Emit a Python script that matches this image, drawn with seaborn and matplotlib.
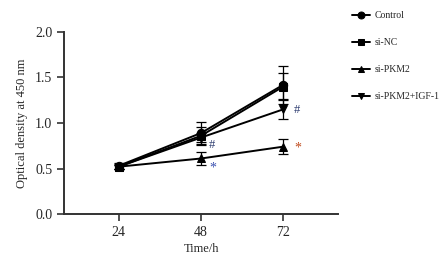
import pandas as pd
import matplotlib
matplotlib.use("Agg")
import matplotlib.pyplot as plt
import seaborn as sns

# Dados
tempos = [24, 48, 72]
grupos = ["Control", "si-NC", "si-PKM2", "si-PKM2+IGF-1"]
control = [0.53, 0.89, 1.42]
si_nc = [0.52, 0.86, 1.40]
si_pkm2 = [0.52, 0.61, 0.74]
si_pkm2_igf = [0.52, 0.84, 1.15]
erro_control = [0.03, 0.12, 0.21]
erro_si_nc = [0.03, 0.10, 0.15]
erro_si_pkm2 = [0.02, 0.07, 0.08]
erro_si_pkm2_igf = [0.02, 0.05, 0.11]

valores = [control, si_nc, si_pkm2, si_pkm2_igf]
erros = [erro_control, erro_si_nc, erro_si_pkm2, erro_si_pkm2_igf]
marcadores = ["o", "s", "^", "v"]

linhas = []
for g, vals, errs in zip(grupos, valores, erros):
    for t, v, e in zip(tempos, vals, errs):
        linhas.append({"Tempo": t, "OD": v, "Erro": e, "Grupo": g})
df = pd.DataFrame(linhas)

sns.set_theme(style="ticks")
plt.rcParams["font.family"] = ["Liberation Serif", "DejaVu Serif"]

fig = plt.figure(figsize=(4.46, 2.58), dpi=100)
ax = fig.add_axes([0.1435, 0.1705, 0.6145, 0.7055])

sns.lineplot(
    data=df, x="Tempo", y="OD", hue="Grupo", style="Grupo",
    palette=["black"] * 4, markers=marcadores, dashes=False,
    markersize=6, linewidth=1.4, markeredgecolor="black", ax=ax, legend=True
)

for g, m in zip(grupos, marcadores):
    d = df[df["Grupo"] == g]
    ax.errorbar(d["Tempo"], d["OD"], yerr=d["Erro"], fmt="none",
                ecolor="black", elinewidth=0.9, capsize=3.8, capthick=0.9)

# Marcas de significância
ax.text(50.3, 0.76, "#", color="#2b3a6e", fontsize=9, va="center")
ax.text(50.3, 0.51, "*", color="#3a50b0", fontsize=10, va="center")
ax.text(75.2, 1.14, "#", color="#2b3a6e", fontsize=9, va="center")
ax.text(75.2, 0.72, "*", color="#c04a1c", fontsize=10, va="center")

ax.set_xlim(8, 88)
ax.set_ylim(0, 2.0)
ax.set_xticks(tempos)
ax.set_yticks([0.0, 0.5, 1.0, 1.5, 2.0])
ax.set_yticklabels(["0.0", "0.5", "1.0", "1.5", "2.0"])
ax.set_xlabel("Time/h", fontsize=9, labelpad=3)
ax.set_ylabel("Optical density at 450 nm", fontsize=9, labelpad=5)
ax.tick_params(axis="both", labelsize=10, width=1.2, length=5, color="#333333")
for s in ["left", "bottom"]:
    ax.spines[s].set_linewidth(1.4)
    ax.spines[s].set_color("#333333")
sns.despine(ax=ax)

handles, labels = ax.get_legend_handles_labels()
for h in handles:
    h.set_markersize(5)
ax.get_legend().remove()
fig.legend(handles, labels, loc="upper left", bbox_to_anchor=(0.77, 0.99),
           frameon=False, fontsize=7, labelspacing=1.85, handlelength=1.8,
           handletextpad=0.5)

fig.savefig("out.png", dpi=100)
